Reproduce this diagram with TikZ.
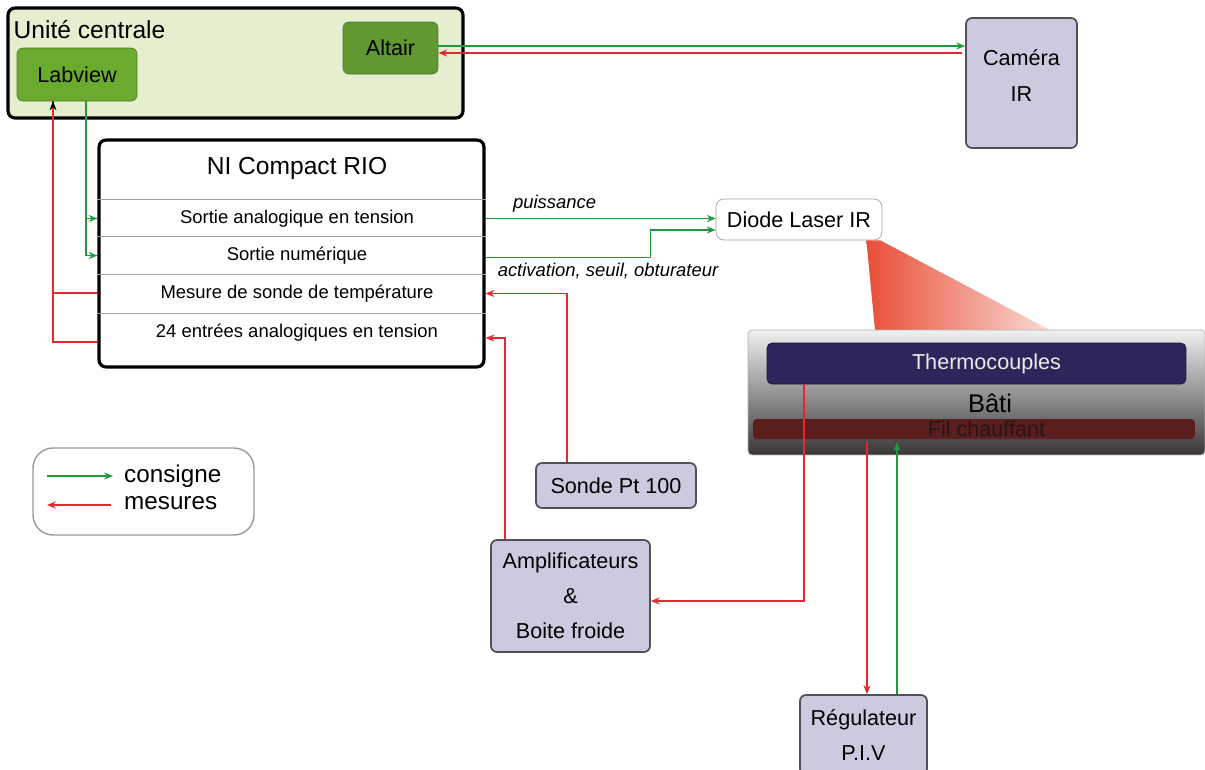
\documentclass[tikz,border=0pt]{standalone}
\usepackage{fontspec}
\setmainfont{Liberation Sans}
\usetikzlibrary{arrows.meta, positioning, calc}

\definecolor{consgreen}{RGB}{30,155,60}
\definecolor{mesred}{RGB}{228,40,45}
\definecolor{ucfill}{RGB}{229,239,207}
\definecolor{lvfill}{RGB}{106,170,46}
\definecolor{altfill}{RGB}{98,152,50}
\definecolor{greenline}{RGB}{78,120,48}
\definecolor{lavender}{RGB}{204,202,222}
\definecolor{boxline}{RGB}{80,80,88}
\definecolor{thermofill}{RGB}{46,37,90}
\definecolor{filfill}{RGB}{90,30,28}
\definecolor{filtext}{RGB}{40,22,22}
\definecolor{batitop}{RGB}{240,240,240}
\definecolor{batibot}{RGB}{58,54,54}
\definecolor{beamred}{RGB}{232,78,55}
\definecolor{beampink}{RGB}{250,218,212}
\definecolor{sepgray}{RGB}{170,160,160}

\begin{document}
\begin{tikzpicture}[x=0.02cm, y=-0.02cm,
  txt/.style={font=\fontsize{12.3}{20}\selectfont},
  box/.style={draw=boxline, line width=1pt, fill=lavender, rounded corners=0.12cm, align=center, txt},
  big/.style={draw=black, line width=1.8pt, rounded corners=0.14cm},
  row/.style={minimum width=7.6cm, minimum height=0.76cm, inner sep=0pt, font=\fontsize{10.5}{12}\selectfont},
  cons/.style={draw=consgreen, line width=0.8pt, -{Stealth[length=5pt,width=4pt]}},
  mes/.style={draw=mesred, line width=0.85pt, -{Stealth[length=5pt,width=4pt]}},
  mesline/.style={draw=mesred, line width=0.85pt},
  lbl/.style={font=\fontsize{10.5}{12}\selectfont\itshape}]
  \useasboundingbox (0,0) rectangle (1205,769);

  % unite centrale
  \node[big, fill=ucfill, minimum width=9.1cm, minimum height=2.2cm] (uc) at (235.5,63) {};
  \node[anchor=west, font=\fontsize{14}{16}\selectfont] (uctitle) at ($(uc.north west)+(1,23)$) {Unité centrale};
  \node[draw=greenline, fill=lvfill, rounded corners=0.12cm, minimum width=2.4cm, minimum height=1.06cm, txt] (labview) at (77,74.5) {Labview};
  \node[draw=greenline, fill=altfill, rounded corners=0.12cm, minimum width=1.9cm, minimum height=1.04cm, txt] (altair) at (390.5,48) {Altair};
  \node[box, minimum width=2.22cm, minimum height=2.6cm, text depth=0.3cm] (camera) at (1021.5,83) {Caméra\\IR};

  % NI compact RIO
  \node[big, fill=white, minimum width=7.7cm, minimum height=4.54cm] (ni) at (291.5,253.5) {};
  \node[font=\fontsize{14}{16}\selectfont] (nititle) at (297,168) {NI Compact RIO};
  \node[row] (r1) at (297,218.5) {Sortie analogique en tension};
  \node[row] (r2) at (297,255.5) {Sortie numérique};
  \node[row] (r3) at (297,293.5) {Mesure de sonde de température};
  \node[row] (r4) at (297,333) {24 entrées analogiques en tension};
  \foreach \rw in {r1,r2,r3,r4}
    \draw[sepgray, line width=0.6pt] (ni.west |- \rw.north) -- (ni.east |- \rw.north);

  % laser et bati
  \node[draw=sepgray, fill=white, rounded corners=0.16cm, minimum width=3.32cm, minimum height=0.82cm, txt] (diode) at (799,219.5) {Diode Laser IR};
  \shade[left color=beamred, right color=beampink] ($(diode.south east)+(-16,0)$) -- ($(diode.south east)+(-2,0)$)
    -- (1050,330) -- (875,330) -- cycle;
  \node[draw=gray!60, top color=batitop, bottom color=batibot, rounded corners=0.08cm, minimum width=9.14cm, minimum height=2.5cm] (bati) at (976.5,392.5) {};
  \node[font=\fontsize{14.5}{16}\selectfont] (batitxt) at (990,403) {Bâti};
  \node[fill=thermofill, draw=thermofill!60!black, rounded corners=0.1cm, minimum width=8.38cm, minimum height=0.82cm, text=gray!15, txt] (thermo) at (976.5,363.5) {\hspace{0.4cm}Thermocouples};
  \node[fill=filfill, rounded corners=0.08cm, minimum width=8.84cm, minimum height=0.4cm, inner sep=0pt, text=filtext, txt] (fil) at (974,429) {\hspace{0.5cm}Fil chauffant};

  % boites du bas
  \node[box, minimum width=3.2cm, minimum height=0.9cm] (sonde) at (616,485.5) {Sonde Pt 100};
  \node[box, minimum width=3.18cm, minimum height=2.24cm] (ampli) at (570.5,596) {Amplificateurs\\\&\\Boite froide};
  \node[box, minimum width=2.54cm, minimum height=1.6cm] (regul) at (863.5,735) {Régulateur\\P.I.V};

  % legende
  \node[draw=gray!80, line width=0.8pt, rounded corners=0.4cm, minimum width=4.42cm, minimum height=1.74cm] (legend) at (143.5,491.5) {};
  \node[anchor=west, font=\fontsize{13.8}{16}\selectfont] (lcons) at (118,476) {consigne};
  \node[anchor=west, font=\fontsize{13.8}{16}\selectfont] (lmes) at (118,503) {mesures};
  \coordinate (lc1) at (47,476);
  \coordinate (lm1) at (47,505);
  \draw[cons] (lc1) -- (lc1 -| {$(lcons.west)+(-5,0)$});
  \draw[mes] (lm1 -| {$(lmes.west)+(-7,0)$}) -- (lm1);

  % liaisons
  \draw[cons] ($(altair.east)+(0,-2)$) coordinate (a1) -- (a1 -| camera.west);
  \coordinate (a2) at ($(altair.east)+(0,5)$);
  \draw[mes] ($(a2 -| camera.west)+(-3,0)$) -- (a2);

  \coordinate (lvout) at ($(labview.south)+(9,0)$);
  \coordinate (lvin) at ($(labview.south)+(-24,0)$);
  \draw[cons] (lvout) |- (ni.west |- r2);
  \draw[cons] (lvout |- r1) -- (ni.west |- r1);
  \draw[mesline] ($(ni.west |- r3)+(0,-0.5)$) -- ($(lvin |- r3)+(0,-0.5)$);
  \draw[mesline] ($(ni.west |- r4)+(0,9)$) -| (lvin);
  \draw[black, line width=0.7pt, -{Stealth[length=5pt,width=4pt]}] ($(lvin)+(0,1)$) -- (lvin);

  \draw[cons] (ni.east |- r1) -- node[lbl, above, pos=0.3] (lblp) {puissance} (diode.west |- r1);
  \draw[cons] ($(ni.east |- r2)+(0,2)$) -| ($(diode.west)+(-65,10.5)$) -- ($(diode.west)+(0,10.5)$);
  \node[lbl] (lbla) at (608,271) {activation, seuil, obturateur};

  \draw[mes] ($(sonde.north west)+(32,0)$) |- (ni.east |- r3);
  \draw[mes] ($(ampli.north west)+(15,0)$) |- ($(ni.east |- r4)+(0,5)$);
  \draw[mes] ($(thermo.south west)+(37.5,0)$) |- ($(ampli.east)+(0,5)$);

  \coordinate (filout) at ($(fil.south)+(-107,3)$);
  \coordinate (filin) at ($(fil.south)+(-77,3)$);
  \draw[mes] (filout) -- (filout |- regul.north);
  \draw[cons] (filin |- regul.north) -- (filin);
\end{tikzpicture}
\end{document}
